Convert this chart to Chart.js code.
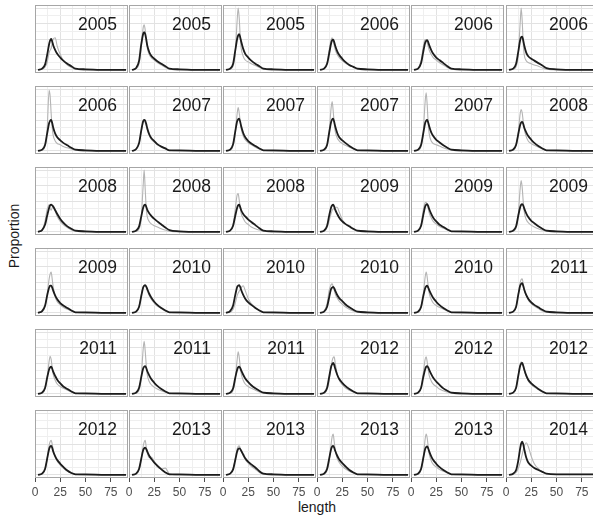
<!DOCTYPE html>
<html>
<head>
<meta charset="utf-8">
<script src="https://cdn.jsdelivr.net/npm/chart.js@4.4.1/dist/chart.umd.min.js"></script>
<style>
  html, body { margin: 0; padding: 0; background: #fff; }
  #fig { position: relative; width: 593px; height: 520px; overflow: hidden; font-family: "Liberation Sans", Arial, sans-serif; color: #1a1a1a; }
  #fig canvas { position: absolute; }
  .yr { position: absolute; font-size: 17.5px; line-height: 20px; text-align: right; pointer-events: none; }
  .ylab { position: absolute; left: 14px; top: 236px; font-size: 14px; transform: translate(-50%, -50%) rotate(-90deg); white-space: nowrap; }
  .xlab { position: absolute; left: 317px; top: 507px; font-size: 14px; transform: translate(-50%, -50%); white-space: nowrap; }
</style>
</head>
<body>
<div id="fig">
  <div class="ylab">Proportion</div>
  <div class="xlab">length</div>
</div>
<script>
// length classes shared by every panel
const lengths = [3, 7, 10, 12, 14, 15, 16, 17, 18, 20, 22, 25, 28, 32, 36, 40, 50, 70, 90];

const panelYears = [
  2005, 2005, 2005, 2006, 2006, 2006,
  2006, 2007, 2007, 2007, 2007, 2008,
  2008, 2008, 2008, 2009, 2009, 2009,
  2009, 2010, 2010, 2010, 2010, 2011,
  2011, 2011, 2011, 2012, 2012, 2012,
  2012, 2013, 2013, 2013, 2013, 2014
];

const xTickLabels = [0, 25, 50, 75];
const xMinorBreaks = [12.5, 37.5, 62.5, 87.5];
const yMajorBreaks = [0, 2.5, 5, 7.5, 10];
const yMinorBreaks = [1.25, 3.75, 6.25, 8.75];

// proportion (%) per length class, dark line
const fitted = [
  [0, 0.2, 0.9, 2.4, 4.2, 4.8, 5.0, 4.6, 4.0, 3.2, 2.6, 2.0, 1.5, 1.0, 0.6, 0.2, 0.1, 0, 0],
  [0, 0.3, 1.5, 4.0, 5.8, 6.1, 5.8, 5.0, 4.0, 2.9, 2.3, 1.8, 1.4, 1.0, 0.6, 0.2, 0.1, 0, 0],
  [0, 0.2, 1.0, 3.0, 5.0, 5.6, 5.8, 5.3, 4.6, 3.4, 2.6, 2.0, 1.5, 1.0, 0.6, 0.2, 0.1, 0, 0],
  [0, 0.2, 1.0, 2.6, 4.3, 4.8, 4.9, 4.5, 3.9, 3.0, 2.4, 1.8, 1.3, 0.8, 0.5, 0.2, 0.1, 0, 0],
  [0, 0.2, 1.1, 2.8, 4.4, 4.7, 4.8, 4.5, 4.0, 3.2, 2.6, 2.0, 1.6, 1.1, 0.6, 0.2, 0.1, 0, 0],
  [0, 0.2, 1.0, 2.8, 4.8, 5.3, 5.4, 4.8, 4.0, 2.8, 2.2, 1.8, 1.5, 1.1, 0.7, 0.3, 0.1, 0, 0],

  [0, 0.2, 1.0, 2.8, 4.5, 4.9, 5.0, 4.5, 3.8, 2.8, 2.2, 1.7, 1.3, 0.9, 0.5, 0.2, 0.1, 0, 0],
  [0, 0.3, 1.3, 3.2, 4.8, 5.0, 4.9, 4.4, 3.7, 2.7, 2.1, 1.6, 1.1, 0.7, 0.4, 0.1, 0.1, 0, 0],
  [0, 0.2, 1.1, 3.0, 4.8, 5.1, 5.2, 4.7, 4.0, 2.9, 2.2, 1.6, 1.2, 0.8, 0.4, 0.1, 0.1, 0, 0],
  [0, 0.2, 1.0, 2.9, 4.7, 5.1, 5.2, 4.7, 4.0, 2.9, 2.2, 1.7, 1.3, 0.8, 0.4, 0.1, 0.1, 0, 0],
  [0, 0.2, 1.0, 2.7, 4.5, 4.9, 5.0, 4.6, 4.0, 3.0, 2.4, 1.8, 1.4, 0.9, 0.5, 0.2, 0.1, 0, 0],
  [0, 0.2, 1.0, 2.6, 4.2, 4.6, 4.7, 4.4, 3.8, 3.0, 2.4, 1.8, 1.3, 0.8, 0.4, 0.1, 0.1, 0, 0],

  [0, 0.3, 1.2, 2.6, 3.9, 4.3, 4.4, 4.3, 4.1, 3.5, 2.9, 2.1, 1.5, 0.9, 0.5, 0.2, 0.1, 0, 0],
  [0, 0.2, 0.9, 2.4, 3.9, 4.3, 4.4, 4.1, 3.6, 3.0, 2.6, 2.1, 1.7, 1.2, 0.7, 0.3, 0.1, 0, 0],
  [0, 0.2, 1.0, 2.5, 3.9, 4.3, 4.4, 4.0, 3.5, 2.9, 2.5, 2.0, 1.6, 1.1, 0.6, 0.2, 0.1, 0, 0],
  [0, 0.2, 1.0, 2.6, 4.0, 4.3, 4.4, 4.1, 3.6, 2.9, 2.3, 1.7, 1.3, 0.9, 0.5, 0.2, 0.1, 0, 0],
  [0, 0.2, 1.0, 2.6, 4.1, 4.4, 4.5, 4.2, 3.7, 2.9, 2.3, 1.7, 1.2, 0.8, 0.4, 0.1, 0.1, 0, 0],
  [0, 0.2, 0.9, 2.5, 4.0, 4.4, 4.5, 4.3, 3.8, 3.0, 2.4, 1.8, 1.4, 0.9, 0.5, 0.2, 0.1, 0, 0],

  [0, 0.3, 1.2, 2.8, 4.1, 4.4, 4.4, 4.1, 3.6, 2.8, 2.2, 1.6, 1.2, 0.8, 0.4, 0.1, 0.1, 0, 0],
  [0, 0.2, 1.0, 2.6, 4.1, 4.4, 4.5, 4.3, 3.9, 3.1, 2.5, 1.8, 1.3, 0.8, 0.4, 0.1, 0.1, 0, 0],
  [0, 0.3, 1.2, 2.8, 4.2, 4.4, 4.5, 4.2, 3.7, 2.9, 2.3, 1.7, 1.3, 0.8, 0.4, 0.1, 0.1, 0, 0],
  [0, 0.2, 1.0, 2.5, 3.9, 4.1, 4.2, 4.0, 3.6, 2.9, 2.4, 1.9, 1.4, 0.9, 0.5, 0.2, 0.1, 0, 0],
  [0, 0.2, 1.0, 2.6, 4.0, 4.3, 4.4, 4.1, 3.7, 3.0, 2.4, 1.8, 1.3, 0.8, 0.4, 0.1, 0.1, 0, 0],
  [0, 0.2, 1.0, 2.8, 4.4, 4.7, 4.8, 4.4, 3.8, 2.9, 2.3, 1.7, 1.3, 0.9, 0.5, 0.2, 0.1, 0, 0],

  [0, 0.2, 1.0, 2.6, 4.0, 4.3, 4.4, 4.1, 3.6, 2.9, 2.3, 1.7, 1.2, 0.8, 0.4, 0.1, 0.1, 0, 0],
  [0, 0.2, 1.0, 2.6, 4.1, 4.4, 4.5, 4.2, 3.7, 3.0, 2.4, 1.8, 1.3, 0.8, 0.4, 0.1, 0.1, 0, 0],
  [0, 0.2, 0.9, 2.5, 3.9, 4.3, 4.4, 4.2, 3.8, 3.1, 2.5, 1.9, 1.4, 0.9, 0.5, 0.2, 0.1, 0, 0],
  [0, 0.2, 1.0, 2.7, 4.4, 4.8, 5.0, 4.7, 4.1, 3.1, 2.4, 1.8, 1.3, 0.8, 0.4, 0.1, 0.1, 0, 0],
  [0, 0.2, 1.0, 2.6, 4.0, 4.4, 4.5, 4.3, 3.9, 3.2, 2.6, 2.0, 1.5, 0.9, 0.5, 0.2, 0.1, 0, 0],
  [0, 0.2, 1.0, 2.8, 4.5, 4.9, 5.0, 4.6, 4.0, 3.0, 2.3, 1.7, 1.3, 0.8, 0.4, 0.1, 0.1, 0, 0],

  [0, 0.2, 1.0, 2.6, 4.2, 4.6, 4.7, 4.4, 3.8, 3.0, 2.4, 1.8, 1.3, 0.7, 0.3, 0.1, 0.1, 0, 0],
  [0, 0.2, 1.0, 2.5, 4.0, 4.3, 4.4, 4.2, 3.8, 3.1, 2.6, 2.0, 1.5, 0.9, 0.4, 0.1, 0.1, 0, 0],
  [0, 0.2, 0.9, 2.3, 3.8, 4.2, 4.3, 4.2, 3.9, 3.3, 2.7, 2.1, 1.7, 1.2, 0.6, 0.2, 0.1, 0, 0],
  [0, 0.2, 1.0, 2.6, 4.2, 4.6, 4.7, 4.4, 3.9, 3.1, 2.5, 1.9, 1.4, 0.8, 0.4, 0.1, 0.1, 0, 0],
  [0, 0.2, 1.0, 2.6, 4.2, 4.5, 4.6, 4.3, 3.8, 3.0, 2.4, 1.8, 1.3, 0.8, 0.4, 0.1, 0.1, 0, 0],
  [0, 0.2, 0.8, 2.2, 4.3, 5.1, 5.4, 5.0, 4.2, 2.8, 2.0, 1.5, 1.1, 0.8, 0.5, 0.2, 0.1, 0.1, 0.1]
];

// proportion (%) per length class, light line
const observed = [
  [0, 0.1, 0.5, 1.2, 2.8, 3.2, 3.5, 4.3, 5.0, 5.2, 3.8, 2.5, 1.5, 0.8, 0.4, 0.1, 0, 0, 0],
  [0, 0.2, 1.0, 3.5, 6.8, 7.3, 6.5, 5.0, 3.6, 2.5, 2.0, 1.6, 1.2, 0.8, 0.4, 0.1, 0, 0, 0],
  [0, 0.1, 0.6, 2.5, 8.0, 10.0, 8.5, 5.5, 3.5, 2.2, 1.6, 1.3, 1.0, 0.7, 0.4, 0.1, 0, 0, 0],
  [0, 0.2, 1.2, 3.2, 4.9, 5.2, 4.8, 4.0, 3.3, 2.5, 2.0, 1.5, 1.1, 0.7, 0.4, 0.1, 0, 0, 0],
  [0, 0.3, 1.5, 3.6, 4.9, 4.8, 4.4, 3.8, 3.2, 2.5, 2.0, 1.6, 1.2, 0.8, 0.4, 0.1, 0, 0, 0],
  [0, 0.1, 0.5, 2.2, 7.5, 10.0, 8.0, 4.5, 2.5, 1.5, 1.2, 1.0, 0.8, 0.6, 0.3, 0.1, 0, 0, 0],

  [0, 0.1, 0.8, 3.5, 9.8, 8.8, 6.0, 3.8, 2.5, 1.6, 1.2, 1.0, 0.7, 0.5, 0.3, 0.1, 0, 0, 0],
  [0, 0.2, 1.2, 3.0, 4.6, 4.8, 4.6, 4.1, 3.4, 2.5, 1.9, 1.4, 1.0, 0.6, 0.3, 0.1, 0, 0, 0],
  [0, 0.1, 0.8, 2.8, 6.0, 7.0, 6.2, 4.8, 3.6, 2.4, 1.8, 1.3, 1.0, 0.6, 0.3, 0.1, 0, 0, 0],
  [0, 0.1, 0.8, 3.0, 7.0, 8.0, 6.5, 4.5, 3.2, 2.1, 1.6, 1.2, 0.9, 0.6, 0.3, 0.1, 0, 0, 0],
  [0, 0.1, 0.7, 2.8, 8.0, 9.4, 7.5, 4.5, 2.8, 1.6, 1.2, 1.0, 0.8, 0.5, 0.3, 0.1, 0, 0, 0],
  [0, 0.1, 0.8, 2.8, 6.0, 6.7, 6.2, 4.8, 3.6, 2.3, 1.6, 1.2, 0.9, 0.6, 0.3, 0.1, 0, 0, 0],

  [0, 0.3, 1.8, 3.6, 4.4, 3.8, 3.5, 3.9, 4.2, 3.4, 2.5, 1.7, 1.2, 0.7, 0.3, 0.1, 0, 0, 0],
  [0, 0.1, 0.5, 2.0, 7.5, 10.0, 7.0, 4.0, 2.5, 1.7, 1.3, 1.0, 0.8, 0.5, 0.3, 0.1, 0, 0, 0],
  [0, 0.2, 1.2, 3.5, 6.0, 6.2, 5.2, 4.0, 3.0, 2.2, 1.6, 1.2, 0.8, 0.5, 0.3, 0.1, 0, 0, 0],
  [0, 0.1, 0.7, 1.8, 3.0, 3.5, 3.7, 3.8, 4.0, 4.0, 3.2, 2.0, 1.3, 0.8, 0.4, 0.1, 0, 0, 0],
  [0, 0.2, 1.2, 3.4, 4.7, 4.8, 4.4, 3.8, 3.1, 2.3, 1.7, 1.3, 0.9, 0.6, 0.3, 0.1, 0, 0, 0],
  [0, 0.1, 0.6, 2.5, 7.0, 8.3, 7.2, 5.0, 3.3, 2.0, 1.5, 1.1, 0.8, 0.5, 0.3, 0.1, 0, 0, 0],

  [0, 0.2, 1.0, 3.0, 5.5, 6.3, 6.6, 5.5, 4.2, 2.6, 1.8, 1.3, 0.9, 0.6, 0.3, 0.1, 0, 0, 0],
  [0, 0.2, 1.1, 2.8, 4.2, 4.4, 4.4, 4.1, 3.6, 2.8, 2.2, 1.6, 1.1, 0.7, 0.3, 0.1, 0, 0, 0],
  [0, 0.1, 0.6, 1.5, 2.8, 3.2, 3.5, 3.8, 4.1, 4.4, 3.6, 2.3, 1.5, 0.9, 0.4, 0.1, 0, 0, 0],
  [0, 0.3, 1.5, 3.6, 4.6, 4.7, 4.3, 3.7, 3.1, 2.4, 1.9, 1.4, 1.0, 0.6, 0.3, 0.1, 0, 0, 0],
  [0, 0.1, 0.8, 2.8, 5.8, 6.6, 5.8, 4.4, 3.2, 2.2, 1.6, 1.2, 0.9, 0.6, 0.3, 0.1, 0, 0, 0],
  [0, 0.2, 0.9, 2.8, 4.9, 5.4, 5.5, 4.8, 3.9, 2.8, 2.1, 1.5, 1.1, 0.7, 0.3, 0.1, 0, 0, 0],

  [0, 0.1, 0.8, 2.6, 5.3, 6.1, 5.6, 4.3, 3.2, 2.2, 1.6, 1.2, 0.9, 0.6, 0.3, 0.1, 0, 0, 0],
  [0, 0.1, 0.6, 2.5, 7.2, 8.5, 7.0, 4.8, 3.2, 2.0, 1.5, 1.1, 0.8, 0.5, 0.3, 0.1, 0, 0, 0],
  [0, 0.1, 0.6, 2.2, 5.5, 6.8, 6.0, 4.5, 3.3, 2.2, 1.6, 1.2, 0.9, 0.6, 0.3, 0.1, 0, 0, 0],
  [0, 0.1, 0.7, 2.2, 4.5, 5.4, 5.9, 6.0, 5.0, 3.2, 2.2, 1.5, 1.0, 0.6, 0.3, 0.1, 0, 0, 0],
  [0, 0.2, 1.0, 3.2, 5.6, 6.0, 5.2, 4.0, 3.0, 2.1, 1.6, 1.2, 0.8, 0.5, 0.3, 0.1, 0, 0, 0],
  [0, 0.2, 1.0, 3.0, 4.8, 5.2, 5.0, 4.5, 3.8, 2.8, 2.1, 1.5, 1.1, 0.7, 0.3, 0.1, 0, 0, 0],

  [0, 0.2, 0.9, 2.6, 4.8, 5.4, 5.6, 5.0, 4.1, 2.9, 2.2, 1.6, 1.1, 0.6, 0.3, 0.1, 0, 0, 0],
  [0, 0.1, 0.8, 2.5, 4.6, 5.3, 5.6, 4.6, 3.6, 2.8, 2.9, 2.2, 1.3, 1.0, 1.1, 0.2, 0, 0, 0],
  [0, 0.2, 1.0, 2.5, 4.2, 4.6, 4.7, 4.4, 3.9, 3.1, 2.5, 1.9, 1.4, 0.9, 0.4, 0.1, 0, 0, 0],
  [0, 0.1, 0.7, 2.2, 5.0, 6.2, 6.6, 5.4, 4.0, 2.7, 2.0, 1.4, 1.0, 0.6, 0.3, 0.1, 0, 0, 0],
  [0, 0.1, 0.8, 2.6, 5.8, 6.6, 6.0, 4.6, 3.4, 2.3, 1.7, 1.3, 0.9, 0.6, 0.3, 0.1, 0, 0, 0],
  [0, 0.1, 0.4, 1.0, 2.0, 2.6, 3.3, 4.0, 4.6, 5.2, 4.6, 3.0, 1.8, 1.0, 0.5, 0.2, 0.1, 0.1, 0.1]
];

const NCOL = 6;
const NROW = 6;
const LEFT0 = 35;
const TOP0 = 5;
const COL_STEP = 94.1;
const ROW_STEP = 81;
const PANEL_W = 93;
const PANEL_H = 68;
const AXIS_H = 24;
const PAD_X = 8;
const FONT = '"Liberation Sans", Arial, sans-serif';

const panelBorder = {
    id: 'panelBorder',
    afterDraw(chart) {
        const { ctx, chartArea: a } = chart;
        ctx.save();
        ctx.strokeStyle = '#a6a6a6';
        ctx.lineWidth = 1;
        ctx.strokeRect(a.left + 0.5, a.top + 0.5, a.right - a.left - 1, a.bottom - a.top - 1);
        ctx.restore();
    }
};

const fig = document.getElementById('fig');

function toPoints(values) {
    return lengths.map((x, k) => ({ x, y: values[k] }));
}

for (let i = 0; i < panelYears.length; i++) {
    const row = Math.floor(i / NCOL);
    const col = i % NCOL;
    const bottom = row === NROW - 1;
    const left = Math.round(LEFT0 + col * COL_STEP);
    const top = TOP0 + row * ROW_STEP;

    const canvas = document.createElement('canvas');
    canvas.width = PANEL_W + 2 * PAD_X;
    canvas.height = PANEL_H + (bottom ? AXIS_H : 0);
    canvas.style.left = (left - PAD_X) + 'px';
    canvas.style.top = top + 'px';
    fig.appendChild(canvas);

    const label = document.createElement('div');
    label.className = 'yr';
    label.style.left = left + 'px';
    label.style.width = (PANEL_W - 11) + 'px';
    label.style.top = (top + 9) + 'px';
    label.textContent = panelYears[i];
    fig.appendChild(label);

    new Chart(canvas, {
        type: 'line',
        data: {
            datasets: [
                {
                    data: toPoints(fitted[i]),
                    borderColor: '#1c1c1c',
                    borderWidth: 1.8,
                    pointRadius: 0,
                    cubicInterpolationMode: 'monotone'
                },
                {
                    data: toPoints(observed[i]),
                    borderColor: '#b4b4b4',
                    borderWidth: 1.1,
                    pointRadius: 0,
                    cubicInterpolationMode: 'monotone'
                }
            ]
        },
        options: {
            responsive: false,
            animation: false,
            events: [],
            layout: { padding: { left: PAD_X, right: PAD_X, top: 0, bottom: 0 } },
            plugins: { legend: { display: false }, tooltip: { enabled: false } },
            scales: {
                x: {
                    type: 'linear',
                    min: 0,
                    max: 92,
                    afterBuildTicks: s => {
                        s.ticks = [0, 12.5, 25, 37.5, 50, 62.5, 75, 87.5].map(v => ({ value: v }));
                    },
                    afterFit: s => { s.height = bottom ? AXIS_H : 0; },
                    border: { display: false },
                    grid: {
                        color: c => xTickLabels.includes(c.tick.value) ? '#e2e2e2' : '#efefef',
                        lineWidth: 1,
                        drawTicks: bottom,
                        tickLength: 4,
                        tickColor: c => xTickLabels.includes(c.tick.value) ? '#4d4d4d' : 'rgba(0,0,0,0)'
                    },
                    ticks: {
                        display: bottom,
                        autoSkip: false,
                        maxRotation: 0,
                        padding: 3,
                        color: '#4d4d4d',
                        font: { size: 12, family: FONT },
                        callback: v => xTickLabels.includes(v) ? String(v) : ''
                    }
                },
                y: {
                    min: -0.5,
                    max: 10.5,
                    afterBuildTicks: s => {
                        s.ticks = yMajorBreaks.concat(yMinorBreaks).map(v => ({ value: v }));
                    },
                    afterFit: s => { s.width = 0; },
                    border: { display: false },
                    grid: {
                        color: c => yMajorBreaks.includes(c.tick.value) ? '#e2e2e2' : '#efefef',
                        lineWidth: 1,
                        drawTicks: false
                    },
                    ticks: { display: false }
                }
            }
        },
        plugins: [panelBorder]
    });
}
</script>
</body>
</html>
